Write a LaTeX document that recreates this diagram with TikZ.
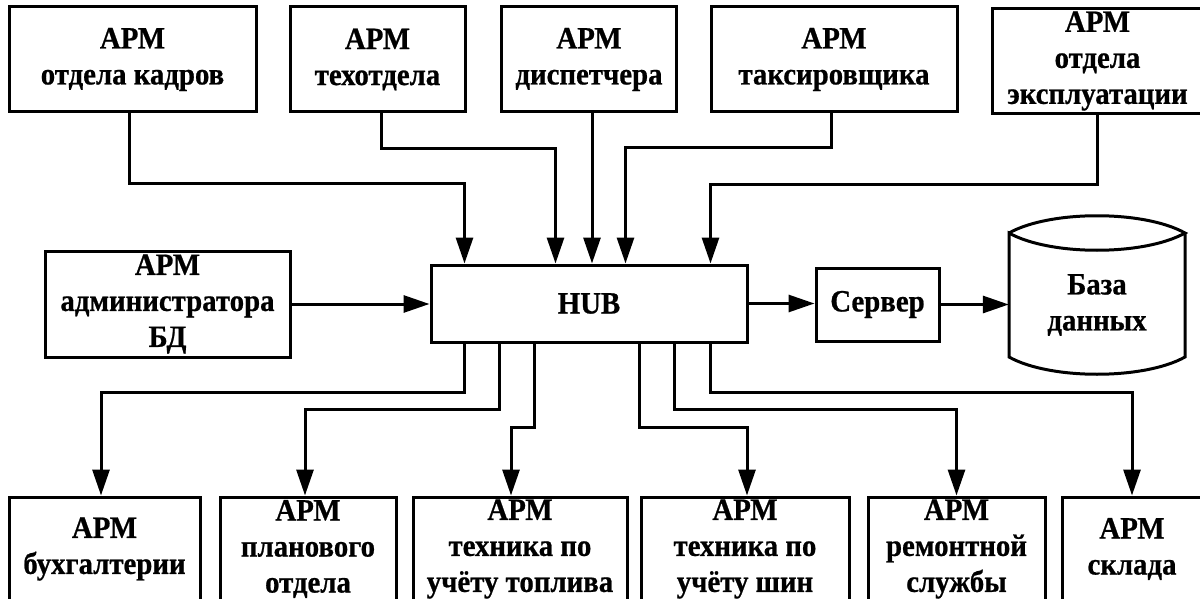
\documentclass[tikz,border=0pt]{standalone}
\usepackage{fontspec}
\setmainfont[FakeStretch=0.93, BoldFeatures={FakeBold=0.7}]{Liberation Serif}
\usetikzlibrary{arrows.meta}
\tikzset{
  box/.style={draw, line width=3pt, align=center, inner sep=0pt,
    font=\fontsize{31}{36}\selectfont\bfseries},
  lbl/.style={align=center, inner sep=0pt,
    font=\fontsize{31}{36}\selectfont\bfseries},
  arr/.style={line width=3pt, -{Triangle[length=26pt,width=17pt]}},
  topbox/.style={box, minimum height=105pt},
  botbox/.style={box, minimum height=104pt}
}
\begin{document}
\begin{tikzpicture}[x=1pt,y=-1pt]
\useasboundingbox (0,0) rectangle (1200,599);
\clip (0,0) rectangle (1200,599);
% top row
\node[topbox, minimum width=247pt] (t1) at (132.5,59.5) {АРМ\\отдела кадров};
\node[topbox, minimum width=175pt] (t2) at (377.5,59.5) {АРМ\\техотдела};
\node[topbox, minimum width=175pt] (t3) at (589,59.5) {АРМ\\диспетчера};
\node[topbox, minimum width=246pt] (t4) at (834,59.5) {АРМ\\таксировщика};
\node[topbox, minimum width=211pt] (t5) at (1097.5,61) {АРМ\\отдела\\эксплуатации};
% middle row
\node[box, minimum width=245pt, minimum height=106pt] (adm) at (167.5,304) {АРМ\\администратора\\БД};
\node[box, minimum width=316pt, minimum height=77pt] (hub) at (589,303.5) {HUB};
\node[box, minimum width=123pt, minimum height=73pt] (srv) at (877.5,304.5) {Сервер};
\node[lbl, minimum width=176pt, minimum height=104pt] (db) at (1097,305) {База\\данных};
\draw[line width=3pt] (1009,233) .. controls (1050,210) and (1144,210) .. (1185,233)
  .. controls (1144,256) and (1050,256) .. (1009,233) -- (1009,357)
  .. controls (1050,380) and (1144,380) .. (1185,357) -- (1185,233);
% bottom row
\node[botbox, minimum width=191pt] (b1) at (104.5,549) {АРМ\\бухгалтерии};
\node[botbox, minimum width=176pt] (b2) at (308,549) {АРМ\\планового\\отдела};
\node[botbox, minimum width=214pt] (b3) at (520,549) {АРМ\\техника по\\учёту топлива};
\node[botbox, minimum width=208pt] (b4) at (745,549) {АРМ\\техника по\\учёту шин};
\node[botbox, minimum width=177pt] (b5) at (956.5,549) {АРМ\\ремонтной\\службы};
\node[botbox, minimum width=140pt] (b6) at (1132,549) {АРМ\\склада};
% connectors into the hub
\draw[arr] ([xshift=-3.5pt]t1.south) -- ++(0,70) -| ([xshift=35pt]hub.north west);
\draw[arr] ([xshift=3.5pt]t2.south) -- ++(0,35) -| ([xshift=126pt]hub.north west);
\draw[arr] ([xshift=3pt]t3.south) -- ([xshift=3pt]hub.north);
\draw[arr] ([xshift=-3pt]t4.south) -- ++(0,34) -| ([xshift=196pt]hub.north west);
\draw[arr] ([xshift=-0.5pt]t5.south) -- ++(0,70) -| ([xshift=281pt]hub.north west);
\draw[arr] (adm.east) -- (adm.east -| hub.west);
% hub to server to database
\draw[arr] (hub.east) -- (hub.east -| srv.west);
\draw[arr] (srv.east) -- (srv.east -| db.west);
% connectors out of the hub
\draw[arr] ([xshift=35pt]hub.south west) -- ++(0,49) -| ([xshift=-3.5pt]b1.north);
\draw[arr] ([xshift=70pt]hub.south west) -- ++(0,66) -| ([xshift=-3pt]b2.north);
\draw[arr] ([xshift=105pt]hub.south west) -- ++(0,84) -| ([xshift=-9pt]b3.north);
\draw[arr] ([xshift=210pt]hub.south west) -- ++(0,84) -| ([xshift=2pt]b4.north);
\draw[arr] ([xshift=245pt]hub.south west) -- ++(0,66) -| (b5.north);
\draw[arr] ([xshift=281pt]hub.south west) -- ++(0,49) -| (b6.north);
\end{tikzpicture}
\end{document}
